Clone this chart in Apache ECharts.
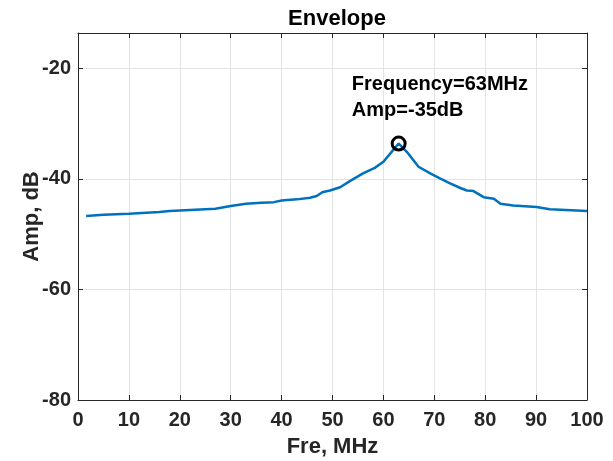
<!DOCTYPE html>
<html>
<head>
<meta charset="utf-8">
<script src="https://cdn.jsdelivr.net/npm/echarts@6/dist/echarts.min.js"></script>
<style>html,body{margin:0;padding:0;background:#fff}#c{width:613px;height:461px}</style>
</head>
<body>
<div id="c"></div>
<script>
const freq = [1.6,5,10,16,18,20,27,30,33,36,38.5,40,43,45.6,46.9,48,49.5,51.5,53.4,56,58.3,60,61.9,63,64.6,66.9,69.2,71.1,73.1,75,76.4,77.7,79.7,81.7,83,85.5,90.1,92.7,100];
const amp = [-46.7,-46.5,-46.3,-46.0,-45.8,-45.7,-45.4,-44.9,-44.5,-44.3,-44.2,-43.9,-43.7,-43.4,-43.1,-42.4,-42.1,-41.5,-40.4,-39.0,-38.0,-36.9,-34.8,-33.6,-35.1,-37.8,-39.0,-39.9,-40.8,-41.6,-42.1,-42.2,-43.3,-43.6,-44.5,-44.8,-45.1,-45.5,-45.8];
const peak = [63, -33.6];
const annotationPos = [53.8, -25.3];
const annotationText = ['Frequency=63MHz', 'Amp=-35dB'];
const xTicks = {min: 0, max: 100, interval: 10};
const yTicks = {min: -80, max: -13.6, interval: 20};

const FONT = '"Liberation Sans", Arial, Helvetica, sans-serif';
const axisColor = '#262626';
const chart = echarts.init(document.getElementById('c'));
const baseAxis = {
  axisLine: {show: true, onZero: false, lineStyle: {color: axisColor, width: 1}},
  axisTick: {show: true, inside: true, length: 5, lineStyle: {color: axisColor}},
};
chart.setOption({
  animation: false,
  backgroundColor: '#fff',
  title: {
    text: 'Envelope', left: 332, top: 3, textAlign: 'center',
    textStyle: {fontFamily: FONT, fontSize: 22, fontWeight: 'bold', color: '#000'}
  },
  grid: {left: 78, right: 26, top: 33, bottom: 61, containLabel: false, outerBoundsMode: 'none'},
  xAxis: [
    Object.assign({}, baseAxis, {
      type: 'value', min: xTicks.min, max: xTicks.max, interval: xTicks.interval,
      name: 'Fre, MHz', nameLocation: 'middle', nameGap: 36, nameMoveOverlap: false,
      nameTextStyle: {fontFamily: FONT, fontSize: 22, fontWeight: 'bold', color: axisColor},
      axisLabel: {margin: 10, fontFamily: FONT, fontSize: 20, fontWeight: 'bold', color: axisColor},
      splitLine: {show: true, lineStyle: {color: '#e3e3e3', width: 1}}
    }),
    Object.assign({}, baseAxis, {
      type: 'value', position: 'top', min: xTicks.min, max: xTicks.max, interval: xTicks.interval,
      axisLabel: {show: false}, splitLine: {show: false}
    })
  ],
  yAxis: [
    Object.assign({}, baseAxis, {
      type: 'value', min: yTicks.min, max: yTicks.max, interval: yTicks.interval,
      name: 'Amp, dB', nameLocation: 'middle', nameGap: 35, nameMoveOverlap: false,
      nameTextStyle: {fontFamily: FONT, fontSize: 22, fontWeight: 'bold', color: axisColor},
      axisLabel: {margin: 7, fontFamily: FONT, fontSize: 20, fontWeight: 'bold', color: axisColor,
        showMaxLabel: false},
      splitLine: {show: true, lineStyle: {color: '#e3e3e3', width: 1}}
    }),
    Object.assign({}, baseAxis, {
      type: 'value', position: 'right', min: yTicks.min, max: yTicks.max, interval: yTicks.interval,
      axisLabel: {show: false}, splitLine: {show: false}
    })
  ],
  series: [
    {
      type: 'line', data: freq.map((f, i) => [f, amp[i]]),
      showSymbol: false, symbol: 'none',
      lineStyle: {color: '#0072BD', width: 2.5}
    },
    {
      type: 'scatter', data: [peak], symbol: 'circle', symbolSize: 13,
      itemStyle: {color: 'rgba(0,0,0,0)', borderColor: '#000', borderWidth: 3, opacity: 1},
      z: 5
    },
    {
      type: 'scatter', data: [annotationPos], symbolSize: 0, silent: true,
      itemStyle: {opacity: 1},
      label: {
        show: true, position: [0, 0], align: 'left', verticalAlign: 'middle',
        formatter: annotationText.join('\n'), lineHeight: 26,
        fontFamily: FONT, fontSize: 20, fontWeight: 'bold', color: '#000'
      }
    }
  ]
});
</script>
</body>
</html>
